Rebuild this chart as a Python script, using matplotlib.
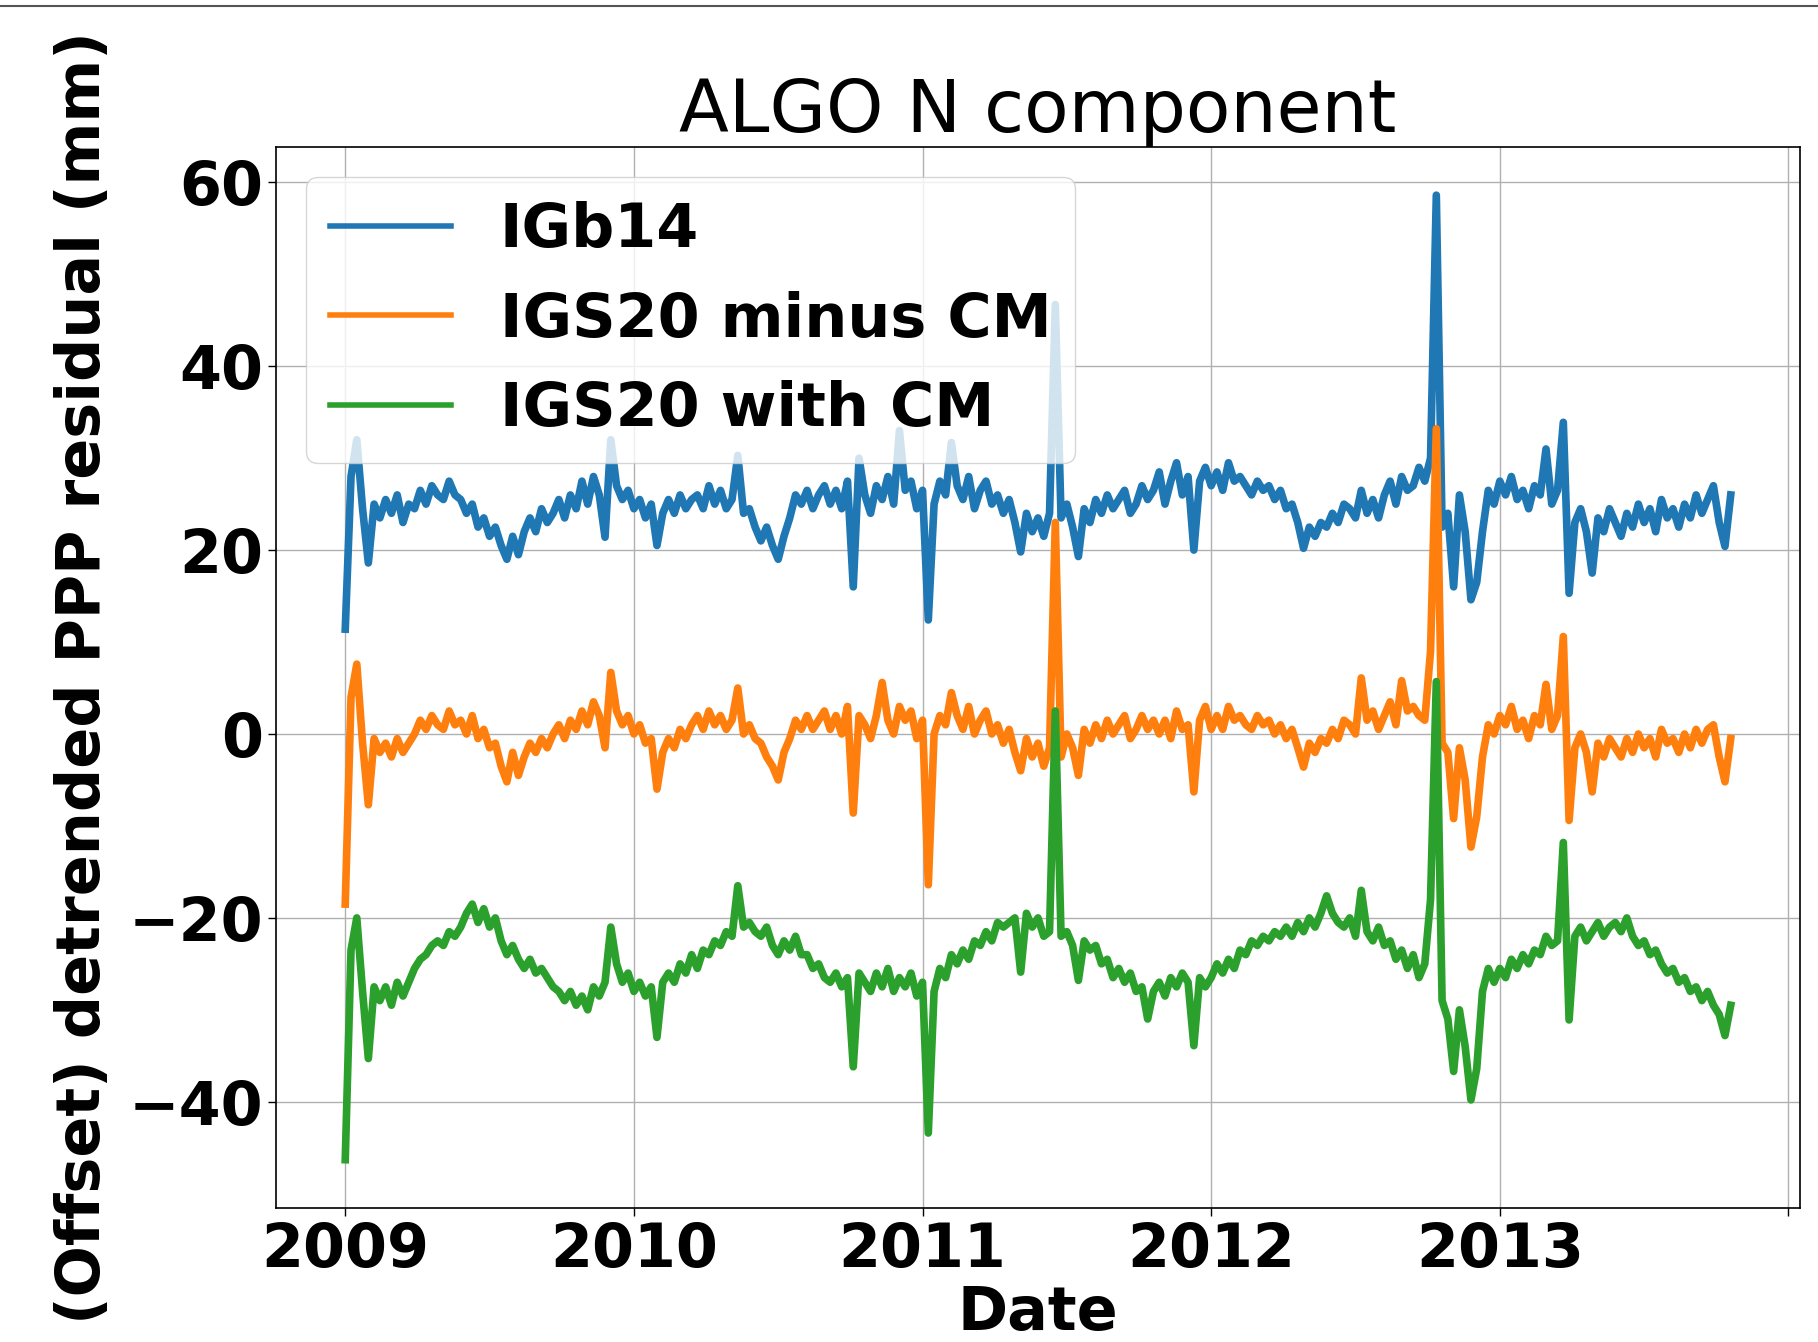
import numpy as np
import matplotlib
matplotlib.use("Agg")
import matplotlib.pyplot as plt
from matplotlib.lines import Line2D

# Sample epochs (decimal year), roughly weekly
years = np.round(np.arange(2009.0, 2013.801, 0.02), 2)

igb14 = [
    11.4, 28.0, 32.0, 24.5, 18.6, 25.0, 23.5, 25.5, 24.0, 26.0,
    23.0, 25.0, 24.5, 26.5, 25.0, 27.0, 26.0, 25.5, 27.5, 26.0,
    25.5, 24.0, 25.0, 22.5, 23.5, 21.5, 22.5, 20.5, 19.0, 21.5,
    19.5, 22.0, 23.5, 22.0, 24.5, 23.0, 24.0, 25.5, 23.5, 26.0,
    24.5, 27.5, 25.0, 28.0, 26.0, 21.4, 32.0, 27.0, 25.5, 26.5,
    24.5, 25.5, 23.5, 25.0, 20.5, 24.0, 25.5, 24.0, 26.0, 24.5,
    25.5, 26.0, 24.5, 27.0, 25.0, 26.5, 24.5, 25.5, 30.3, 24.0,
    24.5, 22.5, 21.0, 22.5, 20.5, 19.0, 21.5, 23.5, 26.0, 25.0,
    26.5, 24.5, 26.0, 27.0, 25.0, 26.5, 24.5, 27.5, 16.0, 30.0,
    26.0, 24.0, 27.0, 25.5, 28.0, 25.0, 33.0, 26.5, 27.5, 24.5,
    26.5, 12.4, 25.0, 27.5, 26.0, 31.7, 27.0, 25.5, 28.0, 24.5,
    26.5, 27.5, 25.0, 26.0, 24.0, 25.5, 23.0, 19.8, 24.0, 22.0,
    23.5, 21.5, 24.0, 46.7, 23.5, 25.0, 22.5, 19.3, 24.5, 23.0,
    25.5, 24.0, 26.0, 24.5, 25.5, 26.5, 24.0, 25.0, 27.0, 25.5,
    26.5, 28.5, 25.0, 27.5, 29.5, 26.0, 28.0, 20.0, 27.5, 29.0,
    27.0, 28.5, 26.5, 29.5, 27.5, 28.0, 27.0, 26.0, 27.5, 26.5,
    27.0, 25.5, 26.5, 24.5, 25.0, 23.0, 20.2, 22.5, 21.5, 23.0,
    22.5, 24.0, 23.0, 25.0, 24.5, 23.5, 26.5, 24.0, 25.5, 23.5,
    26.0, 27.5, 25.0, 28.0, 26.5, 27.0, 29.0, 27.5, 30.0, 58.6,
    22.5, 24.0, 16.0, 26.0, 22.0, 14.6, 16.5, 22.0, 26.5, 25.0,
    27.5, 26.0, 28.0, 25.5, 26.5, 24.5, 27.0, 26.0, 31.0, 25.0,
    26.5, 33.9, 15.3, 23.0, 24.5, 22.0, 17.5, 23.5, 22.0, 24.5,
    23.0, 21.5, 24.0, 22.5, 25.0, 23.0, 24.5, 22.0, 25.5, 23.5,
    24.5, 22.5, 25.0, 23.5, 26.0, 24.0, 25.5, 27.0, 23.0, 20.4,
    26.0,
]

igs20_minus_cm = [
    -18.5, 4.0, 7.6, -1.0, -7.7, -0.5, -2.0, -1.0, -2.5, -0.5,
    -2.0, -1.0, 0.0, 1.5, 0.5, 2.0, 1.0, 0.5, 2.5, 1.0,
    1.5, 0.0, 2.0, -0.5, 0.5, -1.5, -1.0, -3.5, -5.2, -2.0,
    -4.5, -2.5, -1.0, -2.0, -0.5, -1.5, 0.0, 1.0, -0.5, 1.5,
    0.5, 2.5, 1.0, 3.5, 2.0, -1.5, 6.7, 2.5, 1.0, 2.0,
    0.0, 1.0, -1.0, -0.5, -6.0, -2.0, -0.5, -1.5, 0.5, -0.5,
    1.0, 2.0, 0.5, 2.5, 1.0, 2.0, 0.5, 1.5, 5.0, 0.0,
    1.0, -0.5, -1.0, -2.5, -3.5, -5.0, -2.0, -0.5, 1.5, 0.5,
    2.0, 0.5, 1.5, 2.5, 0.5, 2.0, 0.0, 3.0, -8.6, 2.0,
    1.0, -0.5, 2.0, 5.6, 1.5, 0.0, 3.0, 1.5, 2.5, -0.5,
    1.5, -16.4, 0.0, 2.0, 1.0, 4.5, 2.0, 0.5, 3.0, 0.0,
    1.5, 2.5, 0.0, 1.0, -1.0, 0.5, -2.0, -4.0, -0.5, -2.5,
    -1.0, -3.5, -1.5, 23.0, -2.5, 0.0, -1.5, -4.5, 0.5, -1.0,
    1.0, -0.5, 1.5, 0.0, 1.0, 2.0, -0.5, 0.5, 2.0, 0.5,
    1.5, 0.0, 1.5, -0.5, 2.5, 0.5, 1.0, -6.3, 1.5, 3.0,
    0.5, 2.0, 0.5, 3.0, 1.5, 2.0, 1.0, 0.5, 2.0, 1.0,
    1.5, 0.0, 1.0, -0.5, 0.5, -1.5, -3.6, -1.0, -2.0, -0.5,
    -1.0, 0.5, -0.5, 1.5, 1.0, 0.0, 6.1, 1.5, 2.5, 0.5,
    2.0, 3.5, 1.0, 5.8, 2.5, 3.0, 2.0, 1.5, 9.0, 33.2,
    -1.0, -2.0, -9.2, -1.5, -5.0, -12.3, -9.0, -2.5, 1.0, 0.0,
    2.0, 1.0, 3.0, 0.5, 1.5, -0.5, 2.0, 1.0, 5.4, 0.5,
    2.0, 10.6, -9.4, -1.5, 0.0, -2.0, -6.3, -1.0, -2.5, -0.5,
    -1.5, -2.5, -0.5, -2.0, 0.0, -1.5, -0.5, -2.5, 0.5, -1.0,
    -0.5, -2.0, 0.0, -1.5, 0.5, -1.0, 0.5, 1.0, -2.5, -5.2,
    -0.5,
]

igs20_with_cm = [
    -46.3, -23.5, -20.0, -28.0, -35.3, -27.5, -29.0, -27.5, -29.5, -27.0,
    -28.5, -27.0, -25.5, -24.5, -24.0, -23.0, -22.5, -23.0, -21.5, -22.0,
    -21.0, -19.5, -18.5, -20.5, -19.0, -21.0, -20.0, -22.5, -24.0, -23.0,
    -24.5, -25.5, -24.5, -26.0, -25.5, -26.5, -27.5, -28.0, -29.0, -28.0,
    -29.5, -28.5, -30.0, -27.5, -28.5, -27.0, -21.0, -25.0, -27.0, -26.0,
    -28.0, -27.0, -28.5, -27.5, -33.0, -27.0, -26.0, -27.0, -25.0, -26.0,
    -24.0, -25.5, -23.5, -24.0, -22.5, -23.0, -21.5, -22.0, -16.5, -21.0,
    -20.5, -21.5, -22.0, -21.0, -23.0, -24.0, -22.5, -23.5, -22.0, -24.0,
    -24.0, -25.5, -25.0, -26.5, -27.0, -26.0, -27.5, -26.5, -36.2, -26.0,
    -27.0, -28.0, -26.0, -27.5, -25.5, -28.0, -26.5, -27.5, -26.0, -28.5,
    -27.0, -43.4, -28.0, -25.5, -26.5, -24.0, -25.0, -23.5, -24.5, -22.5,
    -23.0, -21.5, -22.5, -20.5, -21.0, -20.5, -20.0, -25.9, -19.5, -21.0,
    -20.0, -22.0, -21.5, 2.5, -22.0, -21.5, -23.0, -26.8, -22.5, -23.5,
    -23.0, -25.0, -24.5, -26.5, -25.5, -27.0, -26.0, -28.0, -27.5, -31.0,
    -28.0, -27.0, -28.5, -26.5, -27.5, -26.0, -27.0, -33.9, -26.5, -27.5,
    -26.5, -25.0, -26.0, -24.5, -25.5, -23.5, -24.0, -22.5, -23.0, -22.0,
    -22.5, -21.5, -22.0, -21.0, -22.0, -20.5, -21.5, -20.0, -21.0, -19.5,
    -17.6, -19.5, -20.5, -21.0, -20.0, -22.0, -17.0, -21.5, -22.5, -21.0,
    -23.0, -22.5, -24.5, -23.5, -25.5, -24.0, -26.5, -25.0, -18.0, 5.7,
    -29.0, -31.0, -36.7, -30.0, -34.0, -39.8, -36.4, -28.0, -25.5, -27.0,
    -25.5, -26.5, -24.5, -25.5, -24.0, -25.0, -23.5, -24.0, -22.0, -23.0,
    -22.5, -11.8, -31.1, -22.0, -21.0, -22.5, -21.5, -20.5, -22.0, -21.0,
    -20.5, -21.5, -20.0, -22.0, -23.0, -22.5, -24.0, -23.5, -25.0, -26.0,
    -25.5, -27.0, -26.5, -28.0, -27.5, -29.0, -28.0, -29.5, -30.5, -32.8,
    -29.5,
]

series_labels = ["IGb14", "IGS20 minus CM", "IGS20 with CM"]
xtick_years = [2009, 2010, 2011, 2012, 2013, 2014]
xtick_labels = ["2009", "2010", "2011", "2012", "2013", ""]
ytick_values = [-40, -20, 0, 20, 40, 60]

FS = 43.5
plt.rcParams["font.family"] = ["DejaVu Sans"]
plt.rcParams["font.weight"] = "bold"
plt.rcParams["font.size"] = FS

fig = plt.figure(figsize=(18.18, 13.42), dpi=100)
ax = fig.add_axes([0.1518, 0.0999, 0.8383, 0.7906])

colors = ["#1f77b4", "#ff7f0e", "#2ca02c"]
for vals, lab, c in zip([igb14, igs20_minus_cm, igs20_with_cm], series_labels, colors):
    ax.plot(years, vals, color=c, lw=5.5, label=lab, solid_joinstyle="round")

ax.set_xticks(xtick_years)
ax.set_xticklabels(xtick_labels)
ax.set_yticks(ytick_values)
ax.set_yticklabels([f"{v}".replace("-", "\u2212") for v in ytick_values])
ax.tick_params(axis="both", length=6, width=1.0, labelsize=FS)
ax.grid(True, color="#b0b0b0", linewidth=1.0)
for s in ax.spines.values():
    s.set_linewidth(1.2)

ax.set_title("ALGO N component", fontsize=52.5, fontweight="normal", pad=6)
ax.set_xlabel("Date", fontsize=FS, fontweight="bold", labelpad=3)
ax.set_ylabel("(Offset) detrended PPP residual (mm)", fontsize=FS, fontweight="bold")
ax.yaxis.set_label_coords(-0.107, 0.5)

leg = ax.legend(loc="upper left", fontsize=FS, handlelength=2.0)
for h in leg.get_lines():
    h.set_linewidth(4)

fig.add_artist(Line2D([0, 1], [1 - 6 / 1342, 1 - 6 / 1342], transform=fig.transFigure,
                      color="#555555", linewidth=1.5))

fig.savefig("out.png", dpi=100)
